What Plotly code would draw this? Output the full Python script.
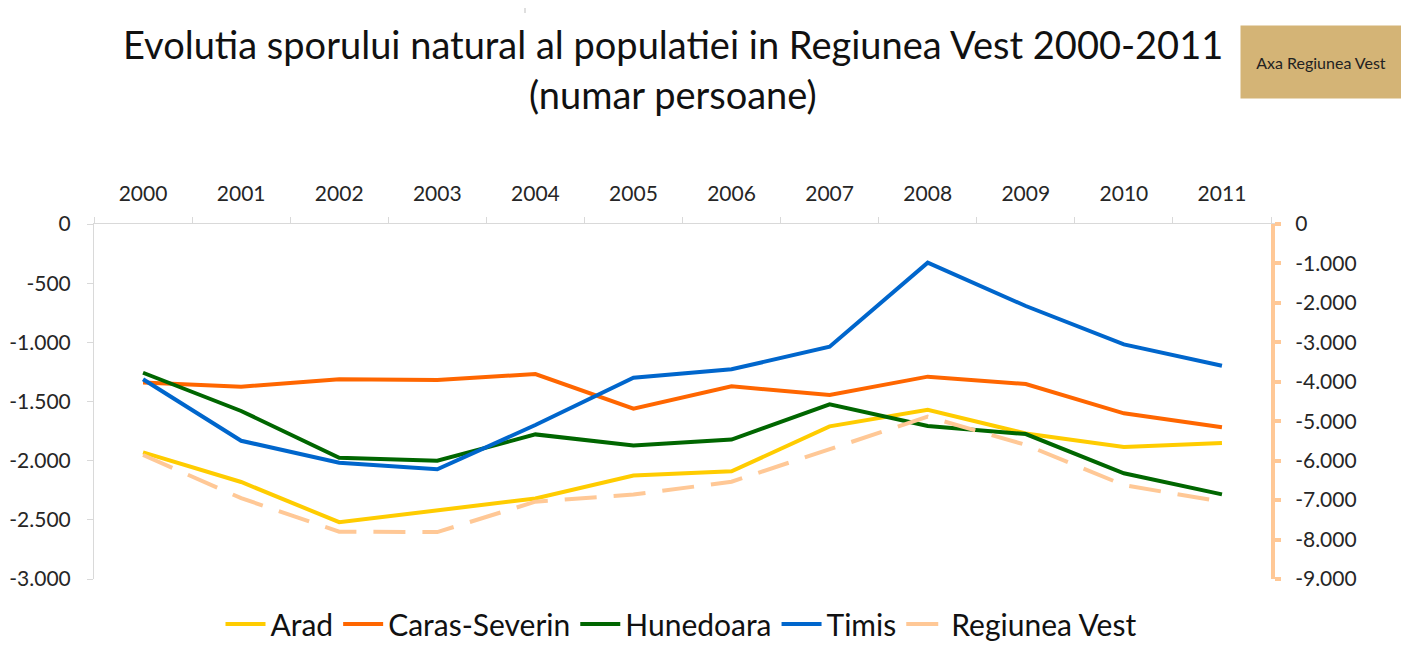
import plotly.graph_objects as go

years = ["2000", "2001", "2002", "2003", "2004", "2005", "2006", "2007", "2008", "2009", "2010", "2011"]
arad = [-1930, -2180, -2520, -2420, -2320, -2125, -2090, -1710, -1570, -1770, -1885, -1850]
caras_severin = [-1340, -1375, -1313, -1318, -1268, -1560, -1372, -1445, -1290, -1352, -1600, -1718]
hunedoara = [-1257, -1580, -1975, -2000, -1778, -1872, -1822, -1524, -1707, -1775, -2107, -2285]
timis = [-1312, -1832, -2017, -2073, -1699, -1299, -1228, -1037, -327, -693, -1017, -1198]
regiunea_vest = [-5857, -6950, -7800, -7810, -7040, -6860, -6533, -5713, -4885, -5600, -6620, -7040]

left_tickvals = [0, -500, -1000, -1500, -2000, -2500, -3000]
left_ticktext = ["0", "-500", "-1.000", "-1.500", "-2.000", "-2.500", "-3.000"]
right_tickvals = [0, -1000, -2000, -3000, -4000, -5000, -6000, -7000, -8000, -9000]
right_ticktext = ["0", "-1.000", "-2.000", "-3.000", "-4.000", "-5.000", "-6.000", "-7.000", "-8.000", "-9.000"]

FONT = "Lato"
OFF = 8  # page body margin
W, H = 1409 - 2 * OFF, 649 - 2 * OFF
L, T = 94 - OFF, 224 - OFF
R = W - (1271 - OFF)
B = H - (579 - OFF)
PW, PH = W - L - R, H - T - B

def px(X):
    return (X - OFF - L) / PW

def py(Y):
    return (H - B - (Y - OFF)) / PH

fig = go.Figure()
series = [
    ("Arad", arad, "#FFCC00"),
    ("Caras-Severin", caras_severin, "#FF6600"),
    ("Hunedoara", hunedoara, "#006600"),
    ("Timis", timis, "#0066CC"),
]
for name, vals, col in series:
    fig.add_trace(go.Scatter(x=years, y=vals, name=name, mode="lines",
                             line=dict(color=col, width=4)))
fig.add_trace(go.Scatter(x=years, y=regiunea_vest, name="Regiunea Vest", mode="lines",
                         yaxis="y2",
                         line=dict(color="#FFC896", width=4, dash="32px,17px")))

tick_font = dict(family=FONT, size=21, color="#262626")
fig.update_layout(
    width=W, height=H,
    margin=dict(l=L, r=R, t=T, b=B, autoexpand=False),
    plot_bgcolor="white", paper_bgcolor="white",
    font=dict(family=FONT, color="#262626"),
    showlegend=True,
    legend=dict(orientation="h", x=px(681), xanchor="center", y=py(598), yanchor="top",
                font=dict(family=FONT, size=30, color="#111111"), itemwidth=40,
                tracegroupgap=0, bgcolor="rgba(0,0,0,0)"),
    xaxis=dict(type="category", side="top", range=[-0.5, 11.5], showline=True,
               linecolor="#D9D9D9", linewidth=1,
               ticks="outside", tickson="boundaries", ticklen=6, tickcolor="#D9D9D9",
               showgrid=False, zeroline=False, ticklabelstandoff=14,
               tickfont=tick_font),
    yaxis=dict(range=[-3000, 0], tickvals=left_tickvals, ticktext=left_ticktext,
               showline=True, linecolor="#D9D9D9", linewidth=1, ticks="outside",
               ticklen=6, tickcolor="#D9D9D9", showgrid=False, zeroline=False,
               ticklabelstandoff=12, tickfont=tick_font),
    yaxis2=dict(range=[-9000, 0], tickvals=right_tickvals, ticktext=right_ticktext,
                overlaying="y", side="right", showline=True, linecolor="#FFC896", linewidth=4,
                ticks="outside", ticklen=6, tickwidth=4, tickcolor="#FFC896",
                showgrid=False, zeroline=False, ticklabelstandoff=10,
                tickfont=tick_font),
)

fig.add_annotation(text="Evolutia sporului natural al populatiei in Regiunea Vest 2000-2011",
                   xref="paper", yref="paper", x=px(673), y=py(44), xanchor="center", yanchor="middle",
                   showarrow=False, font=dict(family=FONT, size=38, color="#111111"))
fig.add_annotation(text="(numar persoane)",
                   xref="paper", yref="paper", x=px(673), y=py(94), xanchor="center", yanchor="middle",
                   showarrow=False, font=dict(family=FONT, size=38, color="#111111"))
fig.add_annotation(text="Axa Regiunea Vest", xref="paper", yref="paper",
                   x=px(1240), y=py(62), xanchor="left", yanchor="middle", align="center",
                   width=158, height=70, bgcolor="#D4B476", showarrow=False,
                   font=dict(family=FONT, size=16, color="#222222"))
fig.add_shape(type="line", xref="paper", yref="paper", x0=px(525), x1=px(525), y0=py(8), y1=py(13),
              line=dict(color="#BFBFBF", width=1))

fig.write_html("out.html")
